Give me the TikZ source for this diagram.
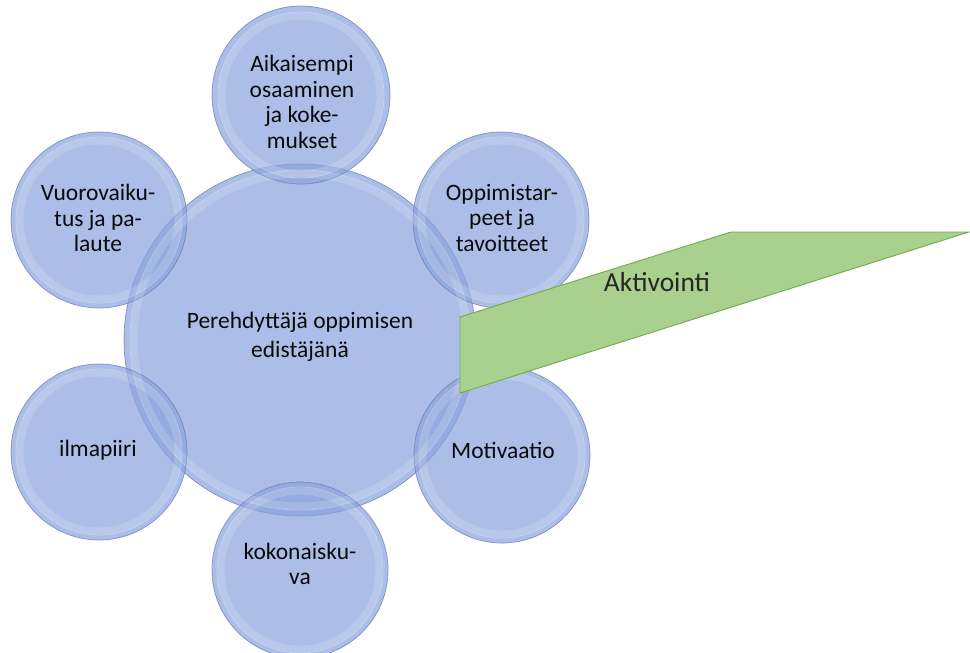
\documentclass[tikz,border=0pt]{standalone}
\usepackage{fontspec}
\setmainfont{Carlito}
\definecolor{bubblefill}{RGB}{140,165,222}
\definecolor{bubbleedge}{RGB}{100,124,178}
\definecolor{greenfill}{RGB}{169,208,142}
\definecolor{greenedge}{RGB}{112,173,71}
\definecolor{txt}{RGB}{10,10,10}
\begin{document}
\begin{tikzpicture}[x=1pt,y=-1pt,
  bubble/.style={circle, fill=bubblefill, fill opacity=0.72, draw=bubbleedge, draw opacity=0.75, line width=0.7pt, inner sep=0pt},
  glass/.style={draw=white, opacity=0.16, line width=7pt},
  glassline/.style={draw=white, opacity=0.30, line width=0.8pt},
  sattext/.style={align=center, text=txt, font=\fontsize{23.5}{25.5}\selectfont, inner sep=0pt},
  centertext/.style={align=center, text=txt, font=\fontsize{23.5}{29}\selectfont, inner sep=0pt},
  greenshape/.style={fill=greenfill, draw=greenedge, line width=0.9pt, line join=miter},
  greentext/.style={text=black!85, font=\fontsize{27.5}{30}\selectfont, inner sep=0pt}
]
\fill[white] (0,0) rectangle (970,653);
\useasboundingbox (0,0) rectangle (970,653);

% central circle
\node[bubble, minimum size=352pt] (center) at (300,340) {};
% satellites
\node[bubble, minimum size=178pt] (prev) at (301,95) {};
\node[bubble, minimum size=176pt] (needs) at (501,220) {};
\node[bubble, minimum size=176pt] (inter) at (99,220) {};
\node[bubble, minimum size=176pt] (atmo) at (99,452) {};
\node[bubble, minimum size=176pt] (motiv) at (502,455) {};
\node[bubble, minimum size=176pt] (whole) at (300,570) {};

% glass highlights
\draw[glass] (center.center) circle (166pt);
\draw[glassline] (center.center) circle (170pt);
\foreach \n in {prev,needs,inter,atmo,motiv,whole}{
  \draw[glass] (\n.center) circle (79pt);
  \draw[glassline] (\n.center) circle (83pt);
}

% texts
\node[centertext] (t-center) at (300,337) {Perehdyttäjä oppimisen\\edistäjänä};
\node[sattext] (t-prev) at (302,102) {Aikaisempi\\osaaminen\\ja koke-\\mukset};
\node[sattext] (t-needs) at (502,218) {Oppimistar-\\peet ja\\tavoitteet};
\node[sattext] (t-inter) at (98,218) {Vuorovaiku-\\tus ja pa-\\laute};
\node[sattext] (t-atmo) at (98,450) {ilmapiiri};
\node[sattext] (t-motiv) at (503,450) {Motivaatio};
\node[sattext] (t-whole) at (300,564) {kokonaisku-\\va};

% green shape
\coordinate (g1) at (460,317);
\coordinate (g2) at (731,232);
\coordinate (g3) at (969,232);
\coordinate (g4) at (460,393);
\draw[greenshape] (g1) -- (g2) -- (g3) -- (g4) -- cycle;
\node[greentext] (aktiv) at (657,282) {Aktivointi};
\end{tikzpicture}
\end{document}
